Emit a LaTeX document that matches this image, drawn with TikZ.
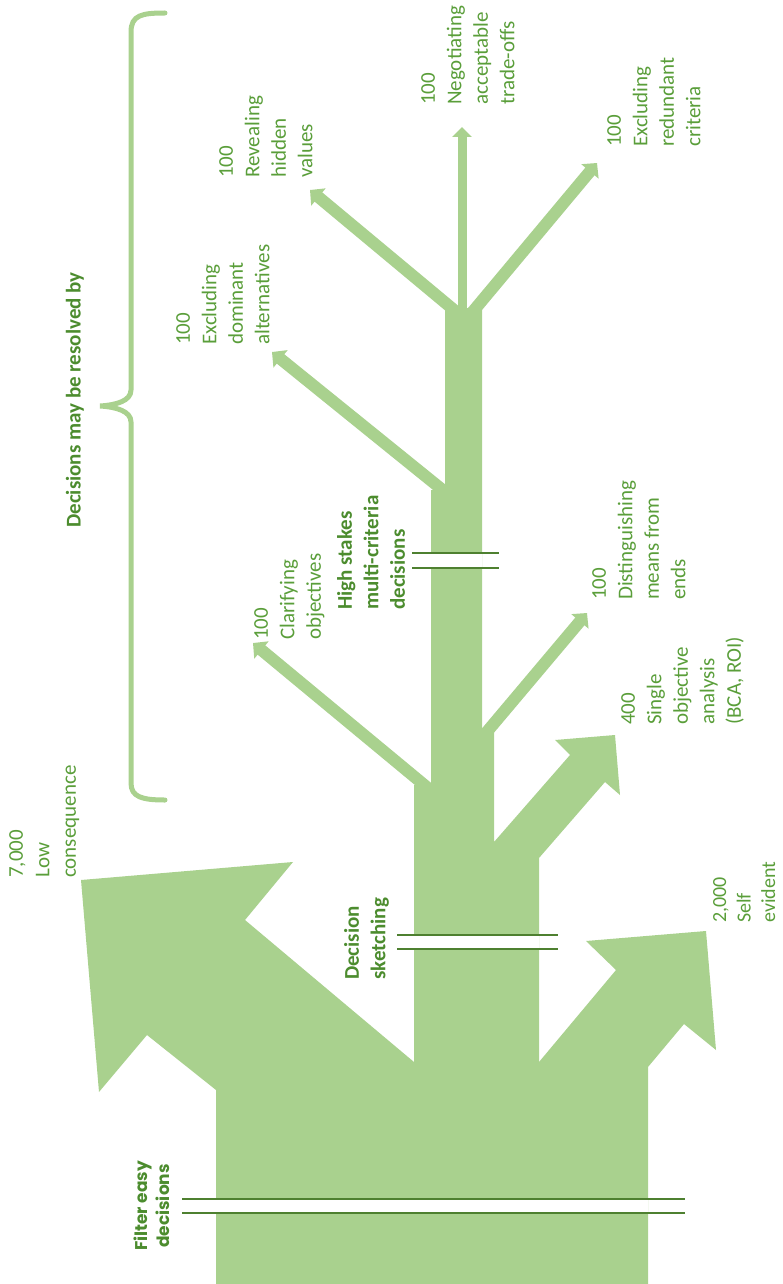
\documentclass[tikz,border=0pt]{standalone}
\usepackage{fontspec}
\setmainfont{Carlito}
\newfontfamily\geofont{Poppins}
\usetikzlibrary{arrows.meta}
\definecolor{flowgreen}{HTML}{A9D18E}
\definecolor{labelgreen}{HTML}{5A9E3A}
\definecolor{boldgreen}{HTML}{4C8C2E}
\definecolor{sepgreen}{HTML}{4E8030}
\begin{document}
\begin{tikzpicture}[x=1pt,y=-1pt,
  flow/.style={fill=flowgreen,draw=none},
  branch/.style={draw=flowgreen,line width=12pt,-{Triangle[width=22pt,length=11pt]}},
  vbranch/.style={draw=flowgreen,line width=9pt,-{Triangle[width=19pt,length=10pt]}},
  sepline/.style={draw=sepgreen,line width=1.4pt},
  gap/.style={fill=white,draw=none},
  lab/.style={rotate=90,anchor=north west,inner sep=0pt,align=left,text=labelgreen,
    font=\fontsize{21}{26.5}\selectfont},
  stagelab/.style={rotate=90,anchor=north west,inner sep=0pt,align=left,text=boldgreen,
    font=\fontsize{21}{26.5}\selectfont\bfseries},
  brace/.style={draw=flowgreen,line width=5pt,line cap=round}
]
\useasboundingbox (0,0) rectangle (782,1284);

% base block with the two large outflows (low consequence, self evident)
\path[flow] (216,1284) -- (216,1090) -- (147,1035) -- (99,1092) -- (81,880)
  -- (293,862) -- (245,920) -- (414,1062) -- (539,1062) -- (616,970)
  -- (586,941) -- (706,931) -- (716,1050) -- (684,1024) -- (648,1067)
  -- (648,1284) -- cycle;

% trunk with the single objective outflow
\path[flow] (414,1070) -- (414,785) -- (431,785) -- (431,490) -- (445,490)
  -- (445,308) -- (482,308) -- (482,730) -- (494,730) -- (494,842)
  -- (570,755) -- (555,740) -- (615,735) -- (620,795) -- (605,782)
  -- (539,858) -- (539,1070) -- cycle;

% branch junctions and tips
\coordinate (clarJ) at (440,798);  \coordinate (clarT) at (253,643);
\coordinate (distJ) at (480,740);  \coordinate (distT) at (587,613);
\coordinate (domJ)  at (455,500);  \coordinate (domT)  at (272,352);
\coordinate (revJ)  at (460,315);  \coordinate (revT)  at (310,190);
\coordinate (negJ)  at (462,320);  \coordinate (negT)  at (462,127);
\coordinate (redJ)  at (470,315);  \coordinate (redT)  at (597,163);

\draw[branch]  (clarJ) -- (clarT);
\draw[branch]  (distJ) -- (distT);
\draw[branch]  (domJ)  -- (domT);
\draw[branch]  (revJ)  -- (revT);
\draw[vbranch] (negJ)  -- (negT);
\draw[branch]  (redJ)  -- (redT);

% stage breaks
\path[gap] (216,1199) rectangle (648,1213);
\draw[sepline] (182,1199) -- (685,1199);
\draw[sepline] (182,1213) -- (685,1213);
\path[gap] (414,935) rectangle (539,949);
\draw[sepline] (397,935) -- (558,935);
\draw[sepline] (397,949) -- (558,949);
\path[gap] (431,553) rectangle (482,568);
\draw[sepline] (412,553) -- (499,553);
\draw[sepline] (412,568) -- (499,568);

% brace over the resolution methods
\draw[brace] (165,13) .. controls (142,13) and (131,15) .. (131,32)
  -- (131,390) .. controls (131,401) and (116,405) .. (100,406)
  .. controls (116,407) and (131,411) .. (131,422)
  -- (131,783) .. controls (131,797) and (142,800) .. (165,800);

% stage labels
\node[rotate=90,inner sep=0pt,align=center,text=boldgreen,
  font=\geofont\fontsize{17}{22}\selectfont\bfseries] (filt) at (152,1206) {Filter easy\\decisions};
\node[stagelab] (sketch) at (344,980) {Decision\\sketching};
\node[stagelab] (high) at (337,610) {High stakes\\multi-criteria\\decisions};
\node[rotate=90,inner sep=0pt,text=boldgreen,font=\fontsize{21}{26}\selectfont\bfseries]
  (resolved) at (75,400) {Decisions may be resolved by};

% outflow labels
\node[lab] (lowc) at (9,878) {7,000\\Low\\consequence};
\node[lab,font=\fontsize{20}{24.5}\selectfont] (selfe) at (713,923) {2,000\\Self\\evident};
\node[lab] (single) at (621,725) {400\\Single\\objective\\analysis\\(BCA, ROI)};
\node[lab] (meansl) at (592,600) {100\\Distinguishing\\means from\\ends};
\node[lab] (clarl) at (254,640) {100\\Clarifying\\objectives};
\node[lab] (doml) at (176,345) {100\\Excluding\\dominant\\alternatives};
\node[lab] (revl) at (219,178) {100\\Revealing\\hidden\\values};
\node[lab] (negl) at (421,105) {100\\Negotiating\\acceptable\\trade-offs};
\node[lab] (redl) at (607,147) {100\\Excluding\\redundant\\criteria};
\end{tikzpicture}
\end{document}
